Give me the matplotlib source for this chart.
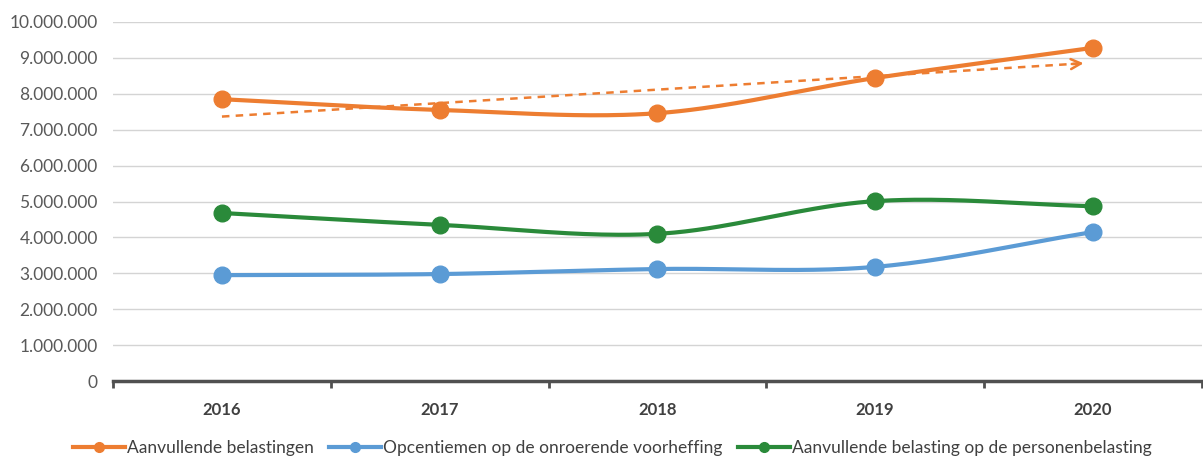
import numpy as np
from matplotlib import pyplot as plt
from matplotlib.ticker import FuncFormatter

years = ['2016', '2017', '2018', '2019', '2020']
aanvullend = [7850000, 7550000, 7460000, 8440000, 9280000]
opcentiemen = [2950000, 2980000, 3120000, 3180000, 4150000]
personen = [4680000, 4350000, 4100000, 5010000, 4870000]

labels = ['Aanvullende belastingen',
          'Opcentiemen op de onroerende voorheffing',
          'Aanvullende belasting op de personenbelasting']
colors = ['#ED7D31', '#5B9BD5', '#2A8A3A']

plt.rcParams['font.family'] = ['Lato', 'DejaVu Sans']


def smooth(xs, ys, n=40):
    # Catmull-Rom style smoothing like spreadsheet "smoothed line"
    xs = np.asarray(xs, float)
    ys = np.asarray(ys, float)
    px = np.concatenate([[2 * xs[0] - xs[1]], xs, [2 * xs[-1] - xs[-2]]])
    py = np.concatenate([[2 * ys[0] - ys[1]], ys, [2 * ys[-1] - ys[-2]]])
    out_x, out_y = [], []
    t = np.linspace(0, 1, n)
    for i in range(1, len(px) - 2):
        p0, p1, p2, p3 = py[i - 1], py[i], py[i + 1], py[i + 2]
        q0, q1, q2, q3 = px[i - 1], px[i], px[i + 1], px[i + 2]
        k = 1 / 6
        c1y, c2y = p1 + (p2 - p0) * k, p2 - (p3 - p1) * k
        c1x, c2x = q1 + (q2 - q0) * k, q2 - (q3 - q1) * k
        bx = (1 - t) ** 3 * q1 + 3 * (1 - t) ** 2 * t * c1x + 3 * (1 - t) * t ** 2 * c2x + t ** 3 * q2
        by = (1 - t) ** 3 * p1 + 3 * (1 - t) ** 2 * t * c1y + 3 * (1 - t) * t ** 2 * c2y + t ** 3 * p2
        out_x.extend(bx)
        out_y.extend(by)
    return out_x, out_y


fig = plt.figure(figsize=(12.03, 4.58), dpi=100)
ax = fig.add_axes([0.094, 0.168, 0.905, 0.784])

x = np.arange(len(years))
for vals, lab, col in zip([aanvullend, opcentiemen, personen], labels, colors):
    sx, sy = smooth(x, vals)
    ax.plot(sx, sy, color=col, lw=3, solid_capstyle='round', zorder=3)
    ax.plot(x, vals, 'o', color=col, ms=12, zorder=4)
    ax.plot([], [], '-o', color=col, lw=3, ms=7, label=lab)

# linear trend for Aanvullende belastingen
coef = np.polyfit(x, aanvullend, 1)
tx = np.array([0, 3.97])
ty = np.polyval(coef, tx)
ax.plot(tx, ty, '--', color='#ED7D31', lw=1.8, dashes=(3, 2.5), zorder=3)
ax.annotate('', xy=(tx[1], ty[1]), xytext=(tx[1] - 0.08, np.polyval(coef, tx[1] - 0.08)),
            arrowprops=dict(arrowstyle='->', color='#ED7D31', lw=1.8,
                            mutation_scale=18), zorder=3)

ax.set_xlim(-0.5, 4.5)
ax.set_ylim(0, 10000000)
ax.set_yticks(np.arange(0, 10000001, 1000000))
ax.yaxis.set_major_formatter(FuncFormatter(lambda v, p: f'{int(v):,}'.replace(',', '.')))
ax.grid(axis='y', color='#d4d4d4', lw=1)
ax.set_axisbelow(True)

ax.set_xticks(x)
ax.set_xticklabels(years, fontweight='bold', fontsize=12, color='#404040')
ax.set_xticks(np.arange(-0.5, 5, 1), minor=True)
ax.tick_params(axis='x', which='major', length=0, pad=15)
ax.tick_params(axis='x', which='minor', length=5, width=2, color='#505050', direction='out')
ax.tick_params(axis='y', length=0, pad=11, labelsize=12.5, labelcolor='#595959')

for s in ['top', 'right', 'left']:
    ax.spines[s].set_visible(False)
ax.spines['bottom'].set_color('#505050')
ax.spines['bottom'].set_linewidth(2.5)

fig.legend(loc='center', bbox_to_anchor=(0.509, 0.022), ncol=3, frameon=False,
           fontsize=12.5, handlelength=3.0, handletextpad=0.1, columnspacing=0.9,
           labelcolor='#404040')

fig.savefig('out.png', dpi=100)
